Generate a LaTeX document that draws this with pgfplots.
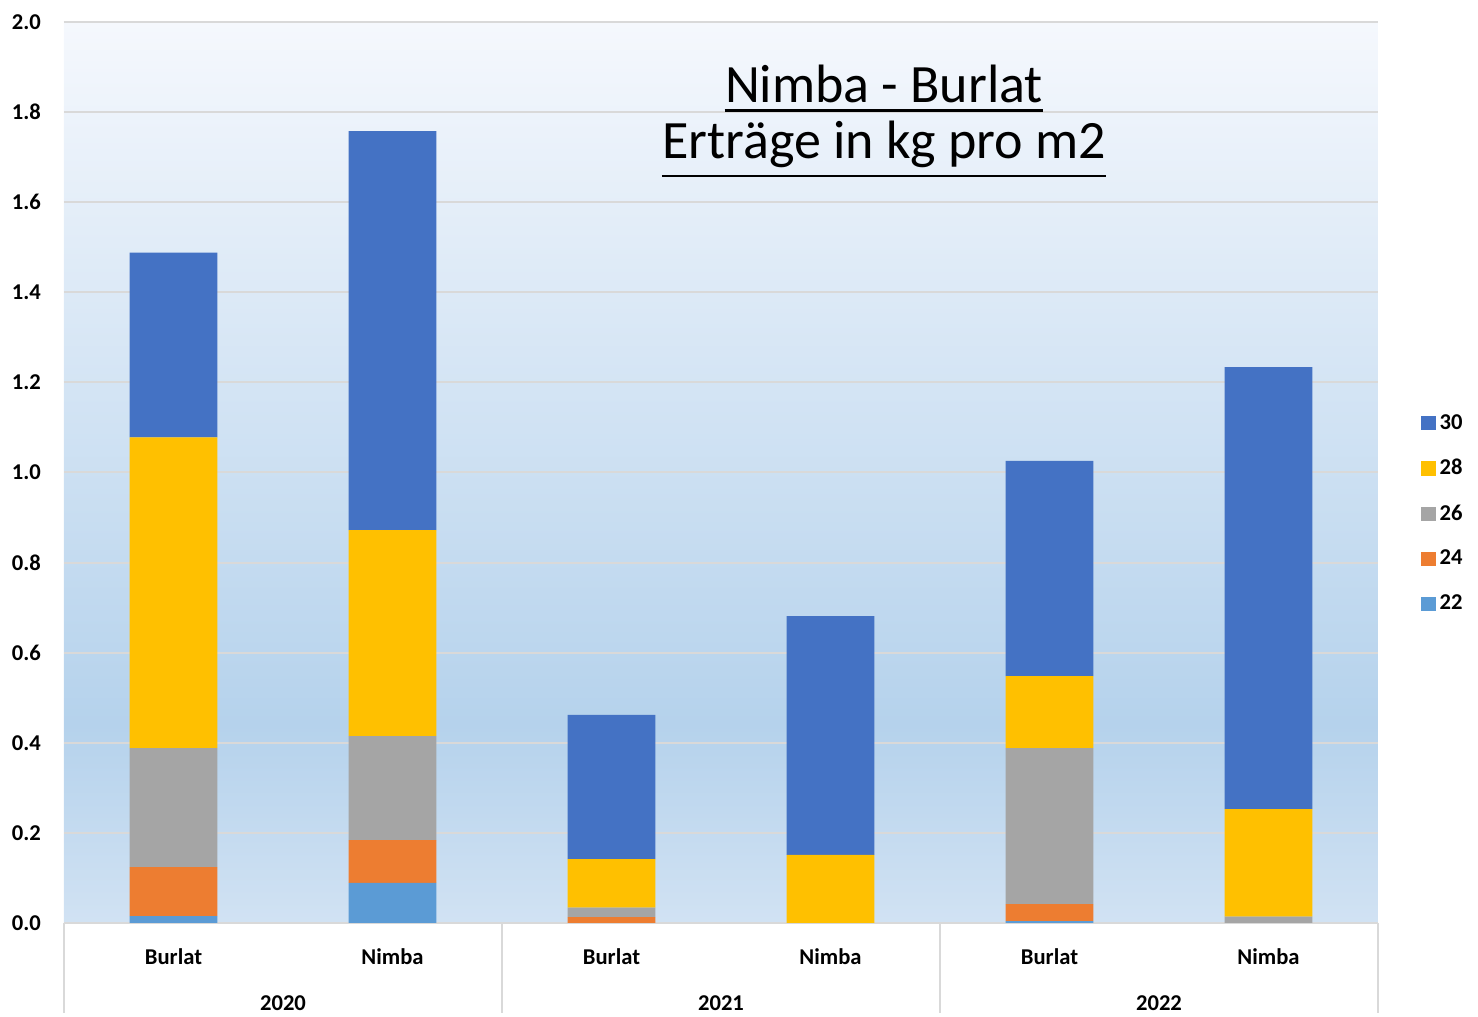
\documentclass[border=0pt]{standalone}
\usepackage{pgfplots}
\pgfplotsset{compat=1.18}
\usepackage{fontspec}
\setmainfont{Carlito}

\definecolor{c30}{HTML}{4472C4}
\definecolor{c28}{HTML}{FFC000}
\definecolor{c26}{HTML}{A5A5A5}
\definecolor{c24}{HTML}{ED7D31}
\definecolor{c22}{HTML}{5B9BD5}
\definecolor{gridc}{HTML}{D9D9D9}
\definecolor{bgtop}{HTML}{F5F8FD}
\definecolor{bgmid}{HTML}{B5D2EC}
\definecolor{bgbot}{HTML}{D1E2F3}
\pgfdeclareverticalshading{plotbg}{100bp}{color(0bp)=(bgbot); color(25bp)=(bgbot); color(36bp)=(bgmid); color(75bp)=(bgtop); color(100bp)=(bgtop)}

\begin{document}
\begin{tikzpicture}
\path (-32pt,-45pt) rectangle (707pt,461.5pt);
\begin{axis}[
    at={(0,0)}, anchor=south west,
    scale only axis, width=657pt, height=450.5pt,
    ybar stacked, bar width=0.4,
    xmin=-0.5, xmax=5.5, ymin=0, ymax=2,
    xtick={0,1,2,3,4,5},
    xticklabels={Burlat,Nimba,Burlat,Nimba,Burlat,Nimba},
    ytick={0,0.2,0.4,0.6,0.8,1.0,1.2,1.4,1.6,1.8,2.0},
    y tick label style={/pgf/number format/fixed, /pgf/number format/fixed zerofill,
        /pgf/number format/precision=1, /pgf/number format/assume math mode=true,
        anchor=east, xshift=-8pt},
    x tick label style={anchor=base, yshift=-20.5pt},
    tick label style={font=\bfseries\fontsize{11.3}{13}\selectfont},
    major tick length=0pt, tick style={draw=none},
    ymajorgrids, grid style={gridc, line width=1pt},
    axis line style={draw=none},
    axis background/.style={shading=plotbg},
    clip=false,
    reverse legend,
    legend image code/.code={\fill[#1] (0pt,-3.6pt) rectangle (7.2pt,3.6pt);},
    legend style={at={(rel axis cs:1.028,0.574)}, anchor=north west, draw=none, fill=none,
        font=\bfseries\fontsize{11.3}{13}\selectfont, row sep=9.5pt},
    legend cell align=left,
]
% 22, 24, 26, 28, 30 from bottom to top
\addplot[fill=c22, draw=none] coordinates {(0,0.015) (1,0.089) (2,0) (3,0) (4,0.004) (5,0)};
\addplot[fill=c24, draw=none] coordinates {(0,0.109) (1,0.095) (2,0.013) (3,0) (4,0.038) (5,0)};
\addplot[fill=c26, draw=none] coordinates {(0,0.264) (1,0.231) (2,0.021) (3,0) (4,0.346) (5,0.014)};
\addplot[fill=c28, draw=none] coordinates {(0,0.690) (1,0.457) (2,0.108) (3,0.151) (4,0.160) (5,0.239)};
\addplot[fill=c30, draw=none] coordinates {(0,0.410) (1,0.886) (2,0.320) (3,0.530) (4,0.478) (5,0.981)};
\legend{22,24,26,28,30}

% year groups below the axis
\draw[gridc, line width=1pt] (axis cs:-0.5,0) -- ++(0pt,-45pt);
\draw[gridc, line width=1pt] (axis cs:1.5,0) -- ++(0pt,-45pt);
\draw[gridc, line width=1pt] (axis cs:3.5,0) -- ++(0pt,-45pt);
\draw[gridc, line width=1pt] (axis cs:5.5,0) -- ++(0pt,-45pt);
\node[anchor=base, yshift=-43.5pt, font=\bfseries\fontsize{11.3}{13}\selectfont] at (axis cs:0.5,0) {2020};
\node[anchor=base, yshift=-43.5pt, font=\bfseries\fontsize{11.3}{13}\selectfont] at (axis cs:2.5,0) {2021};
\node[anchor=base, yshift=-43.5pt, font=\bfseries\fontsize{11.3}{13}\selectfont] at (axis cs:4.5,0) {2022};
\end{axis}

% title, inside the plot area (axis box spans (0,0)--(657pt,450.5pt))
\node[anchor=base, font=\fontsize{27}{32}\selectfont, inner sep=0pt] (t1) at (410pt,410pt) {Nimba - Burlat};
\draw[line width=1.3pt] ([yshift=-3.85pt]t1.base west) -- ([yshift=-3.85pt]t1.base east);
\node[anchor=base, font=\fontsize{27}{32}\selectfont, inner sep=0pt] (t2) at (410pt,382pt) {Erträge in kg pro m2};
\draw[line width=1.3pt] ([yshift=-8.5pt]t2.base west) -- ([yshift=-8.5pt]t2.base east);
\end{tikzpicture}
\end{document}
